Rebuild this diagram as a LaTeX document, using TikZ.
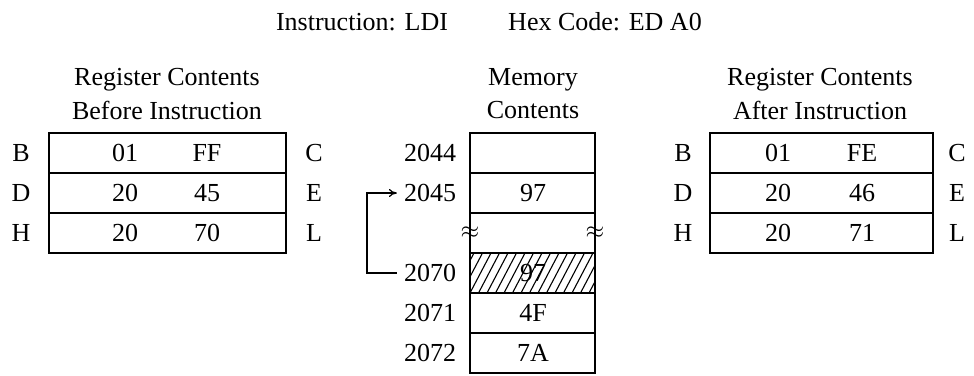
\documentclass[tikz,border=0pt]{standalone}
\usepackage{fontspec}
\setmainfont{Liberation Serif}
\tikzset{
	cellbox/.style = {line width = 1pt},
	hatchline/.style = {line width = 0.55pt},
	linkline/.style = {line width = 0.6pt, -{To[length=4pt,width=4pt]}}
}
\usetikzlibrary{arrows.meta}
\begin{document}
\begin{tikzpicture} [x = 0.5pt, y = -0.5pt, font = \fontsize{13}{15.6}\selectfont]
	\useasboundingbox (0,0) rectangle (974,375);
	% heading
	\node (instr) at (362,22) {Instruction: LDI};
	\node (hexcode) at (605,22) {Hex Code: ED A0};
	% registers before
	\node (befhead) at (167,80) {Register Contents};
	\node (befsub) at (167,110) {Before Instruction};
	\foreach \y in {133,173,213}
		\draw [cellbox] (49,\y) rectangle (286,\y+40);
	\node (bB) at (21,153) {B};
	\node (bD) at (21,193) {D};
	\node (bH) at (21,233) {H};
	\node (bC) at (314,153) {C};
	\node (bE) at (314,193) {E};
	\node (bL) at (314,233) {L};
	\node (bBv) at (125,153) {01};
	\node (bCv) at (207,153) {FF};
	\node (bDv) at (125,193) {20};
	\node (bEv) at (207,193) {45};
	\node (bHv) at (125,233) {20};
	\node (bLv) at (207,233) {70};
	% memory
	\node (memhead) at (533,80) {Memory};
	\node (memsub) at (533,110) {Contents};
	\foreach \y in {133,173,213,253,293,333}
		\draw [cellbox] (470,\y) rectangle (595,\y+40);
	\node (a2044) at (430,153) {2044};
	\node (a2045) at (430,193) {2045};
	\node (a2070) at (430,273) {2070};
	\node (a2071) at (430,313) {2071};
	\node (a2072) at (430,353) {2072};
	\node (m2045) at (533,193) {97};
	\node (m2070) at (533,273) {97};
	\node (m2071) at (533,313) {4F};
	\node (m2072) at (533,353) {7A};
	\node (brkl) at (470,233) {$\approx$};
	\node (brkr) at (595,233) {$\approx$};
	\begin{scope}
	\clip (470,253) rectangle (595,293);
	\foreach \i in {-3,...,15}
		\draw [hatchline] ({470+\i*8.5},293) -- ++(21,-40);
	\end{scope}
	\draw [cellbox] (470,253) rectangle (595,293);
	\draw [linkline] (a2070.west) -- ++(-30,0) |- (a2045.west);
	% registers after
	\node (afthead) at (820,80) {Register Contents};
	\node (aftsub) at (820,110) {After Instruction};
	\foreach \y in {133,173,213}
		\draw [cellbox] (710,\y) rectangle (933,\y+40);
	\node (aB) at (683,153) {B};
	\node (aD) at (683,193) {D};
	\node (aH) at (683,233) {H};
	\node (aC) at (957,153) {C};
	\node (aE) at (957,193) {E};
	\node (aL) at (957,233) {L};
	\node (aBv) at (778,153) {01};
	\node (aCv) at (862,153) {FE};
	\node (aDv) at (778,193) {20};
	\node (aEv) at (862,193) {46};
	\node (aHv) at (778,233) {20};
	\node (aLv) at (862,233) {71};
\end{tikzpicture}
\end{document}
